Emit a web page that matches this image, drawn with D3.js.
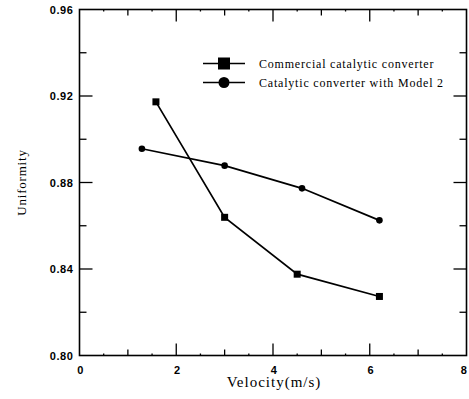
<!DOCTYPE html>
<html>
<head>
<meta charset="utf-8">
<script src="https://cdn.jsdelivr.net/npm/d3@7"></script>
<style>
  body { margin: 0; background: #fff; }
  svg { display: block; }
  .tick-label { font-family: "Liberation Sans", Arial, sans-serif; font-size: 11px; font-weight: bold; letter-spacing: 0.6px; }
  .serif { font-family: "Liberation Serif", "Times New Roman", serif; }
</style>
</head>
<body>
<svg id="chart" width="469" height="399"></svg>
<script>
// data
const commercialX = [1.58, 3.0, 4.5, 6.2];
const commercialY = [0.9173, 0.8639, 0.8376, 0.8273];
const model2X = [1.29, 3.0, 4.6, 6.2];
const model2Y = [0.8956, 0.8878, 0.8773, 0.8625];
const xTicks = [0, 2, 4, 6, 8];
const yTicks = [0.80, 0.84, 0.88, 0.92, 0.96];
const seriesNames = ["Commercial catalytic converter", "Catalytic converter with Model 2"];

(() => {
  const svg = d3.select("#chart");
  const mLeft = 79.5, mRight = 466.5, mTop = 9.5, mBottom = 355.5;

  const x = d3.scaleLinear().domain([0, 8]).range([mLeft, mRight]);
  const y = d3.scaleLinear().domain([0.80, 0.96]).range([mBottom, mTop]);

  const ink = "#000";

  // frame
  svg.append("rect")
    .attr("x", mLeft).attr("y", mTop)
    .attr("width", mRight - mLeft).attr("height", mBottom - mTop)
    .attr("fill", "none").attr("stroke", ink).attr("stroke-width", 1.6);

  // ticks: major, minor, tiny (all inward)
  const g = svg.append("g").attr("stroke", ink);
  const xMinor = d3.range(1, 8, 2);
  const xTiny = d3.range(0.5, 8, 1);
  const yMinor = d3.range(0.82, 0.96, 0.04);
  function tickX(v, len) {
    g.append("line").attr("x1", x(v)).attr("x2", x(v)).attr("y1", mBottom).attr("y2", mBottom - len).attr("stroke-width", 1.3);
    g.append("line").attr("x1", x(v)).attr("x2", x(v)).attr("y1", mTop).attr("y2", mTop + len).attr("stroke-width", 1.3);
  }
  function tickY(v, len) {
    g.append("line").attr("y1", y(v)).attr("y2", y(v)).attr("x1", mLeft).attr("x2", mLeft + len).attr("stroke-width", 1.3);
    g.append("line").attr("y1", y(v)).attr("y2", y(v)).attr("x1", mRight).attr("x2", mRight - len).attr("stroke-width", 1.3);
  }
  xTicks.slice(1, -1).forEach(v => tickX(v, 12));
  xMinor.forEach(v => tickX(v, 6));
  xTiny.forEach(v => tickX(v, 2));
  yTicks.slice(1, -1).forEach(v => tickY(v, 13));
  yMinor.forEach(v => tickY(v, 7));

  // tick labels
  svg.append("g").selectAll("text").data(xTicks).join("text")
    .attr("class", "tick-label")
    .attr("x", d => Math.min(x(d) + 1, 464)).attr("y", mBottom + 18)
    .attr("text-anchor", "middle").text(d => d);
  svg.append("g").selectAll("text").data(yTicks).join("text")
    .attr("class", "tick-label")
    .attr("x", mLeft - 6).attr("y", d => y(d) + 4)
    .attr("text-anchor", "end").text(d => d.toFixed(2));

  // axis titles
  svg.append("text").attr("class", "serif")
    .attr("x", 274).attr("y", 387).attr("text-anchor", "middle")
    .attr("font-size", 15).attr("letter-spacing", 1).text("Velocity(m/s)");
  svg.append("text").attr("class", "serif")
    .attr("transform", `translate(26,${(mTop + mBottom) / 2}) rotate(-90)`)
    .attr("text-anchor", "middle").attr("font-size", 13).attr("letter-spacing", 0.8).text("Uniformity");

  // series
  const line = d3.line().x(d => x(d[0])).y(d => y(d[1]));
  const commercial = d3.zip(commercialX, commercialY);
  const model2 = d3.zip(model2X, model2Y);

  svg.append("path").datum(commercial).attr("d", line)
    .attr("fill", "none").attr("stroke", ink).attr("stroke-width", 1.7);
  svg.append("path").datum(model2).attr("d", line)
    .attr("fill", "none").attr("stroke", ink).attr("stroke-width", 1.7);

  svg.append("g").selectAll("rect").data(commercial).join("rect")
    .attr("x", d => x(d[0]) - 3.5).attr("y", d => y(d[1]) - 3.5)
    .attr("width", 7).attr("height", 7).attr("fill", ink);
  svg.append("g").selectAll("circle").data(model2).join("circle")
    .attr("cx", d => x(d[0])).attr("cy", d => y(d[1])).attr("r", 3.3).attr("fill", ink);

  // legend
  const legY = [63.5, 82.5];
  const lg = svg.append("g");
  legY.forEach((ly, i) => {
    lg.append("line").attr("x1", 203).attr("x2", 245).attr("y1", ly).attr("y2", ly)
      .attr("stroke", ink).attr("stroke-width", 1.7);
    if (i === 0) {
      lg.append("rect").attr("x", 218).attr("y", ly - 6).attr("width", 12).attr("height", 12).attr("fill", ink);
    } else {
      lg.append("circle").attr("cx", 224).attr("cy", ly).attr("r", 5.5).attr("fill", ink);
    }
    lg.append("text").attr("class", "serif")
      .attr("x", 259).attr("y", ly + 4).attr("font-size", 12).attr("letter-spacing", 0.8).text(seriesNames[i]);
  });
})();
</script>
</body>
</html>
